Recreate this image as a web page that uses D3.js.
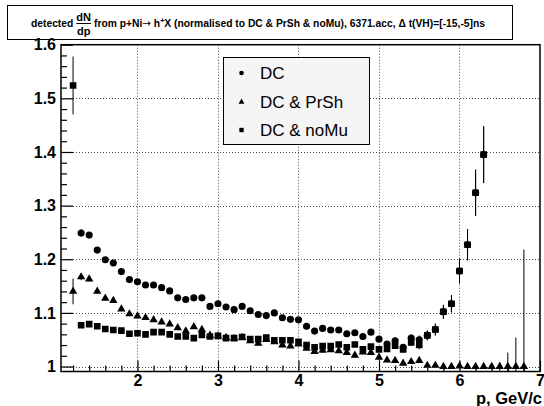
<!DOCTYPE html>
<html>
<head>
<meta charset="utf-8">
<script src="https://cdn.jsdelivr.net/npm/d3@7"></script>
<style>
  html, body { margin: 0; padding: 0; background: #fff; }
  svg { display: block; font-family: "Liberation Sans", Arial, Helvetica, sans-serif; }
</style>
</head>
<body>
<svg id="chart" width="544" height="406"></svg>
<script>
// Momentum bins (GeV/c) and ratios for each selection
const pDC = [1.3,1.4,1.5,1.6,1.7,1.8,1.9,2.0,2.1,2.2,2.3,2.4,2.5,2.6,2.7,2.8,2.9,3.0,3.1,3.2,3.3,3.4,3.5,3.6,3.7,3.8,3.9,4.0,4.1,4.2,4.3,4.4,4.5,4.6,4.7,4.8,4.9,5.0,5.1,5.2,5.3,5.4,5.5,5.6,5.7,5.8,5.9,6.0,6.1,6.2,6.3];
const valDC = [1.249,1.245,1.217,1.199,1.193,1.177,1.162,1.158,1.152,1.152,1.147,1.141,1.128,1.125,1.128,1.128,1.112,1.117,1.111,1.106,1.112,1.104,1.097,1.095,1.100,1.091,1.088,1.087,1.075,1.066,1.071,1.068,1.068,1.061,1.063,1.056,1.064,1.051,1.042,1.048,1.036,1.053,1.050,1.058,1.069,1.102,1.117,1.178,1.227,1.324,1.395];
const errDC = [0.007,0.005,0.004,0.004,0.004,0.004,0.004,0.004,0.004,0.004,0.004,0.004,0.004,0.004,0.004,0.004,0.004,0.004,0.004,0.004,0.004,0.004,0.004,0.004,0.004,0.004,0.004,0.004,0.004,0.004,0.004,0.004,0.004,0.004,0.005,0.005,0.005,0.005,0.005,0.006,0.006,0.007,0.008,0.009,0.011,0.013,0.016,0.023,0.029,0.043,0.053];

const pPrSh = [1.2,1.3,1.4,1.5,1.6,1.7,1.8,1.9,2.0,2.1,2.2,2.3,2.4,2.5,2.6,2.7,2.8,2.9,3.0,3.1,3.2,3.3,3.4,3.5,3.6,3.7,3.8,3.9,4.0,4.1,4.2,4.3,4.4,4.5,4.6,4.7,4.8,4.9,5.0,5.1,5.2,5.3,5.4,5.5,5.6,5.7,5.8,5.9,6.0,6.1,6.2,6.3,6.4,6.5,6.6,6.7,6.8];
const valPrSh = [1.140,1.167,1.163,1.140,1.127,1.123,1.107,1.098,1.094,1.091,1.087,1.083,1.079,1.072,1.066,1.074,1.069,1.058,1.057,1.054,1.052,1.054,1.048,1.043,1.050,1.046,1.040,1.038,1.042,1.034,1.028,1.030,1.031,1.029,1.026,1.021,1.027,1.026,1.017,1.012,1.011,1.006,1.009,1.011,1.002,1.002,1.000,1.000,1.001,1.000,1.000,1.000,1.000,1.000,1.000,1.000,1.000];
const errPrSh = [0.024,0.006,0.005,0.004,0.004,0.004,0.004,0.004,0.004,0.004,0.004,0.004,0.004,0.004,0.004,0.004,0.004,0.004,0.004,0.004,0.004,0.004,0.004,0.004,0.004,0.004,0.004,0.004,0.004,0.004,0.004,0.004,0.004,0.004,0.004,0.004,0.004,0.004,0.004,0.004,0.004,0.004,0.004,0.004,0.003,0.003,0.003,0.003,0.003,0.003,0.003,0.004,0.005,0.008,0.026,0.054,0.218];

const pNoMu = [1.2,1.3,1.4,1.5,1.6,1.7,1.8,1.9,2.0,2.1,2.2,2.3,2.4,2.5,2.6,2.7,2.8,2.9,3.0,3.1,3.2,3.3,3.4,3.5,3.6,3.7,3.8,3.9,4.0,4.1,4.2,4.3,4.4,4.5,4.6,4.7,4.8,4.9,5.0,5.1,5.2,5.3,5.4,5.5,5.6,5.7,5.8,5.9,6.0,6.1,6.2,6.3];
const valNoMu = [1.524,1.077,1.079,1.075,1.070,1.068,1.067,1.061,1.062,1.060,1.064,1.064,1.060,1.056,1.056,1.053,1.059,1.056,1.057,1.053,1.053,1.055,1.051,1.051,1.054,1.049,1.049,1.049,1.046,1.040,1.036,1.038,1.038,1.041,1.036,1.041,1.032,1.037,1.032,1.033,1.039,1.032,1.045,1.040,1.058,1.069,1.102,1.117,1.178,1.227,1.324,1.395];
const errNoMu = [0.054,0.004,0.004,0.004,0.004,0.004,0.004,0.004,0.004,0.004,0.004,0.004,0.004,0.004,0.004,0.004,0.004,0.004,0.004,0.004,0.004,0.004,0.004,0.004,0.004,0.004,0.004,0.004,0.004,0.004,0.004,0.004,0.004,0.004,0.004,0.005,0.005,0.005,0.005,0.005,0.006,0.006,0.007,0.008,0.009,0.011,0.013,0.016,0.023,0.029,0.043,0.053];

const xMajorTicks = [2, 3, 4, 5, 6, 7];
const yMajorTicks = [1.0, 1.1, 1.2, 1.3, 1.4, 1.5, 1.6];
const seriesNames = ["DC", "DC & PrSh", "DC & noMu"];
const xTitle = "p, GeV/c";

const svg = d3.select("#chart");
const frame = { left: 61, right: 540, top: 44.7, bottom: 371.5 };

const x = d3.scaleLinear().domain([1.05, 7.0]).range([frame.left, frame.right]);
const y = d3.scaleLinear().domain([0.9907, 1.6]).range([frame.bottom, frame.top]);

// ---- title box ----
const titleG = svg.append("g");
titleG.append("rect")
  .attr("x", 7.5).attr("y", 5.5).attr("width", 505).attr("height", 34)
  .attr("fill", "#fff").attr("stroke", "#000").attr("stroke-width", 1);

const tFont = 10.3;
const tText = titleG.append("g").attr("font-weight", "bold").attr("font-size", tFont);
const baseY = 27;
let cx = 0;
const t1 = tText.append("text").attr("x", cx).attr("y", baseY).text("detected");
cx += t1.node().getComputedTextLength() + 3;
const fracN = tText.append("text").attr("y", baseY - 6.5).attr("text-anchor", "middle").attr("font-size", 11).text("dN");
const fracD = tText.append("text").attr("y", baseY + 7.5).attr("text-anchor", "middle").attr("font-size", 11).text("dp");
const fw = Math.max(fracN.node().getComputedTextLength(), fracD.node().getComputedTextLength());
fracN.attr("x", cx + fw / 2);
fracD.attr("x", cx + fw / 2);
tText.append("line").attr("x1", cx).attr("x2", cx + fw).attr("y1", baseY - 3.5).attr("y2", baseY - 3.5)
  .attr("stroke", "#000").attr("stroke-width", 1);
cx += fw + 3;
const t2 = tText.append("text").attr("x", cx).attr("y", baseY);
t2.append("tspan").text("from p+Ni");
t2.append("tspan").attr("font-family", "DejaVu Sans").attr("font-weight", "normal").text("\u2192");
t2.append("tspan").text(" h");
t2.append("tspan").attr("font-size", tFont * 0.7).attr("dy", -4).text("+");
t2.append("tspan").attr("dy", 4).text("X (normalised to DC & PrSh & noMu), 6371.acc, \u0394 t(VH)=[-15,-5]ns");
cx += t2.node().getComputedTextLength();
tText.attr("transform", `translate(${258 - cx / 2},0)`);

// ---- grid ----
const grid = svg.append("g").attr("stroke", "#000").attr("stroke-width", 1)
  .attr("stroke-dasharray", "1,2").attr("opacity", 0.7);
grid.selectAll("line.gx").data(xMajorTicks.filter(d => d < 7)).join("line")
  .attr("x1", d => Math.round(x(d)) + 0.5).attr("x2", d => Math.round(x(d)) + 0.5)
  .attr("y1", frame.top).attr("y2", frame.bottom);
grid.selectAll("line.gy").data(yMajorTicks.filter(d => d < 1.6)).join("line")
  .attr("y1", d => Math.round(y(d)) + 0.5).attr("y2", d => Math.round(y(d)) + 0.5)
  .attr("x1", frame.left).attr("x2", frame.right);

// ---- axes (ticks drawn inside the frame) ----
const xMinor = d3.range(12, 70, 2).map(v => v / 10).filter(v => !Number.isInteger(v));
const yMinor = d3.range(100, 161, 2).map(v => v / 100).filter(v => Math.round(v * 100) % 10 !== 0);

const xAxis = svg.append("g").attr("transform", `translate(0,${frame.bottom})`)
  .call(d3.axisBottom(x).tickValues(xMajorTicks).tickSize(-11).tickPadding(3)
    .tickFormat(d3.format("d")));
const xAxisMinor = svg.append("g").attr("transform", `translate(0,${frame.bottom})`)
  .call(d3.axisBottom(x).tickValues(xMinor).tickSize(-6).tickFormat(""));
const yAxis = svg.append("g").attr("transform", `translate(${frame.left},0)`)
  .call(d3.axisLeft(y).tickValues(yMajorTicks).tickSize(-12).tickPadding(5)
    .tickFormat(d => String(+d.toFixed(1))));
const yAxisMinor = svg.append("g").attr("transform", `translate(${frame.left},0)`)
  .call(d3.axisLeft(y).tickValues(yMinor).tickSize(-6).tickFormat(""));

[xAxis, xAxisMinor, yAxis, yAxisMinor].forEach(g => {
  g.select(".domain").remove();
  g.selectAll(".tick line").attr("stroke", "#000").attr("stroke-width", 1.2);
  g.selectAll("text").attr("font-family", "Liberation Sans, Arial, sans-serif")
    .attr("font-weight", "bold").attr("font-size", 16).attr("fill", "#000");
});

svg.append("text")
  .attr("x", 542).attr("y", 403.5).attr("text-anchor", "end")
  .attr("font-weight", "bold").attr("font-size", 16.5).text(xTitle);

// ---- data ----
svg.append("clipPath").attr("id", "plotclip").append("rect")
  .attr("x", frame.left).attr("y", frame.top)
  .attr("width", frame.right - frame.left).attr("height", frame.bottom - frame.top);

const series = [
  { name: seriesNames[0], p: pDC, v: valDC, e: errDC, sym: d3.symbolCircle, size: 40, lsize: 17 },
  { name: seriesNames[1], p: pPrSh, v: valPrSh, e: errPrSh, sym: d3.symbolTriangle, size: 30, lsize: 15 },
  { name: seriesNames[2], p: pNoMu, v: valNoMu, e: errNoMu, sym: d3.symbolSquare, size: 44, lsize: 19 }
];

const plot = svg.append("g").attr("clip-path", "url(#plotclip)");
// triangles first, then circles, squares on top
[series[1], series[0], series[2]].forEach(s => {
  const pts = s.p.map((p, i) => ({ p, v: s.v[i], e: s.e[i] }));
  const g = plot.append("g");
  g.selectAll("line").data(pts).join("line")
    .attr("x1", d => x(d.p)).attr("x2", d => x(d.p))
    .attr("y1", d => y(d.v - d.e)).attr("y2", d => y(d.v + d.e))
    .attr("stroke", "#000").attr("stroke-width", 1);
  g.selectAll("path").data(pts).join("path")
    .attr("transform", d => `translate(${x(d.p)},${y(d.v)})`)
    .attr("d", d3.symbol(s.sym, s.size)())
    .attr("fill", "#000");
});

// ---- frame ----
svg.append("rect")
  .attr("x", frame.left).attr("y", frame.top)
  .attr("width", frame.right - frame.left).attr("height", frame.bottom - frame.top)
  .attr("fill", "none").attr("stroke", "#000").attr("stroke-width", 1.5);

// ---- legend ----
const leg = svg.append("g");
leg.append("rect").attr("x", 223.5).attr("y", 57.5).attr("width", 146).attr("height", 87)
  .attr("fill", "#f5f5f5").attr("stroke", "#000").attr("stroke-width", 1);
const rowY = [73, 102, 130];
series.forEach((s, i) => {
  leg.append("path").attr("transform", `translate(241.5,${rowY[i]})`)
    .attr("d", d3.symbol(s.sym, s.lsize)()).attr("fill", "#000");
  leg.append("text").attr("x", 260).attr("y", rowY[i] + 6)
    .attr("font-size", 17).text(s.name);
});
</script>
</body>
</html>
